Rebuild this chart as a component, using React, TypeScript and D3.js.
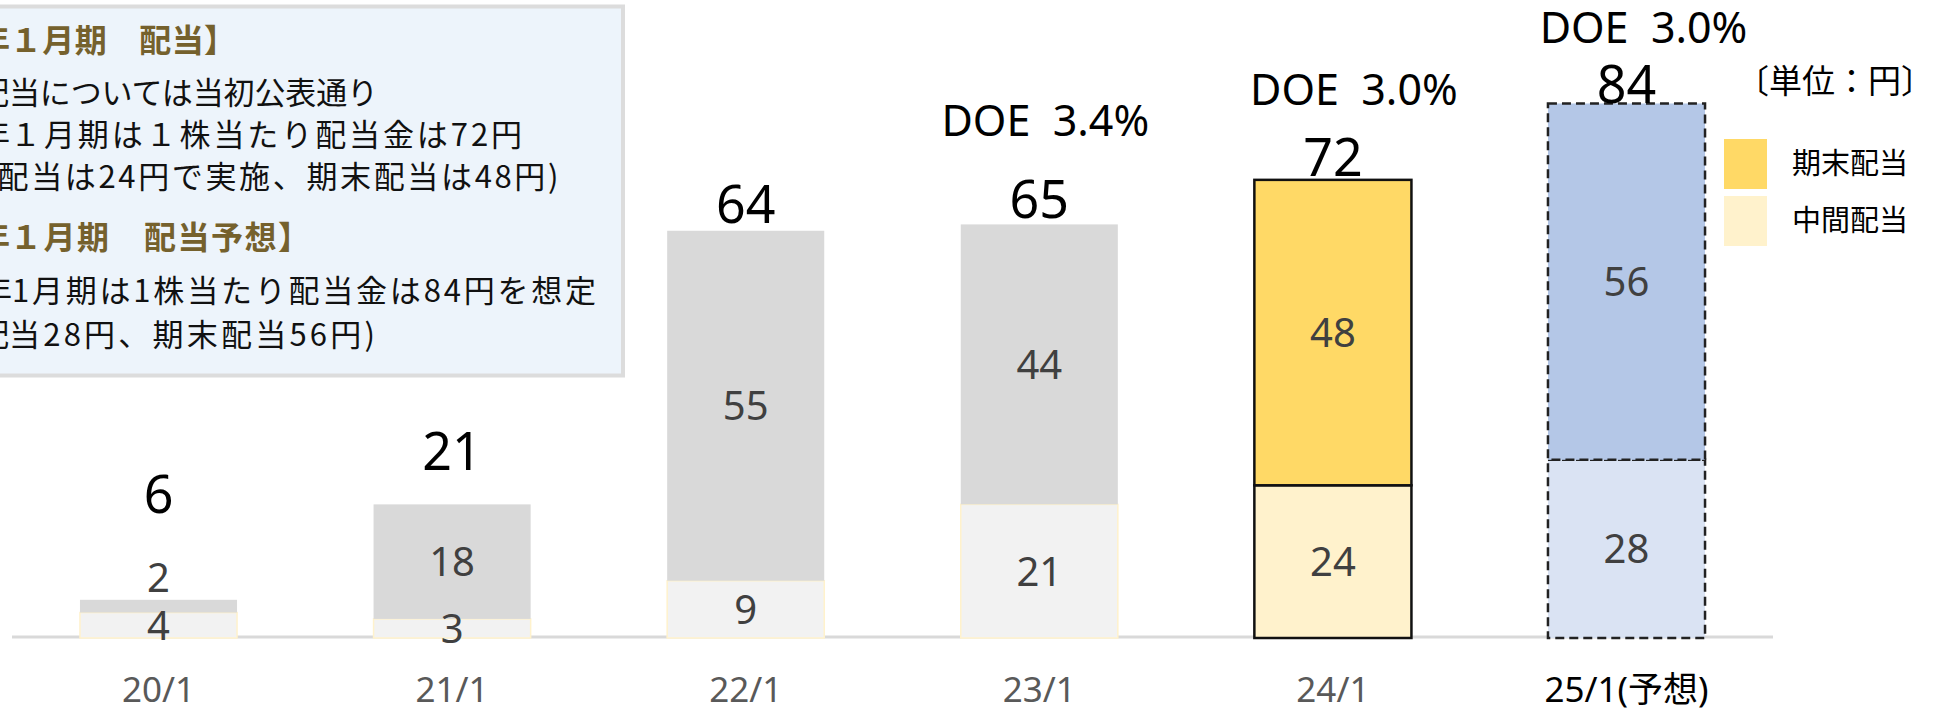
import { useEffect, useRef } from "react";
import * as d3 from "d3";

// ── Data ─────────────────────────────────────────────────────────────────────
const PERIODS = ["20/1", "21/1", "22/1", "23/1", "24/1", "25/1(予想)"];
const INTERIM = [4, 3, 9, 21, 24, 28];      // 中間配当
const YEAR_END = [2, 18, 55, 44, 48, 56];   // 期末配当
const TOTALS = [6, 21, 64, 65, 72, 84];
const DOE = [null, null, null, "3.4%", "3.0%", "3.0%"];
const KIND = ["past", "past", "past", "past", "actual", "forecast"];
const LEGEND = ["期末配当", "中間配当"];
const UNIT = "〔単位：円〕";

// note box: hidden = part that runs off the left edge, shown = visible part
const NOTE_LINES = [
  { hidden: "【2024年", shown: "１月期　配当】", bold: true },
  { hidden: "・期末配", shown: "当については当初公表通り", bold: false },
  { hidden: "　2024年", shown: "１月期は１株当たり配当金は72円", bold: false },
  { hidden: "（中間", shown: "配当は24円で実施、期末配当は48円)", bold: false },
  { hidden: "【2025年", shown: "１月期　配当予想】", bold: true },
  { hidden: "・2025年", shown: "1月期は1株当たり配当金は84円を想定", bold: false },
  { hidden: "（中間配", shown: "当28円、期末配当56円)", bold: false },
];

// ── Layout ───────────────────────────────────────────────────────────────────
const W = 1935;
const H = 708;
const BASE_Y = 638;
const TOP_Y = 103.5;
const LATIN = "'Noto Sans', 'Noto Sans CJK JP', sans-serif";
const JP = "'Noto Sans CJK JP', 'Noto Sans', sans-serif";

// hand-placed label offsets (px above the bar top), as in the source slide
const TOTAL_LIFT = [87, 34, 8, 6, 4, 0.5];
const DOE_LIFT = [0, 0, 0, 88, 75, 60.5];
const DOE_SHIFT = [0, 0, 0, 6, 21, 17];
const NOTE_X = [10, 9, 10, -2.5, 10, 12, 9];
const NOTE_Y = [52, 104, 146, 188, 249, 302, 346];
const NOTE_LEN = [226, 369, 512, 561, 300, 584, 366];   // visible run widths

const STYLE = {
  past: { top: "#d9d9d9", bottom: "#f2f2f2", stroke: "#fff2cc", sw: 1.5, dash: null, topStroke: "none" },
  actual: { top: "#ffd966", bottom: "#fff2cc", stroke: "#111", sw: 2.5, dash: null, topStroke: "#111" },
  forecast: { top: "#b4c7e7", bottom: "#dae3f3", stroke: "#222", sw: 2.5, dash: "9,5", topStroke: "#222" },
};

export default function App() {
  const svgRef = useRef<SVGSVGElement | null>(null);

  useEffect(() => {
    if (!svgRef.current) return;
    const svg = d3.select(svgRef.current);
    svg.selectAll("*").remove();

    const x = d3.scaleBand().domain(PERIODS).range([12, 1773])
      .paddingInner(0.465).paddingOuter(0.2315);
    const y = d3.scaleLinear().domain([0, d3.max(TOTALS) as number]).range([BASE_Y, TOP_Y]);
    const bw = x.bandwidth();

    // ── Note box ──────────────────────────────────────────────────────────────
    svg.append("rect")
      .attr("x", -20).attr("y", 6.5).attr("width", 643).attr("height", 369)
      .attr("fill", "#edf4fb").attr("stroke", "#dcdcdc").attr("stroke-width", 4);

    NOTE_LINES.forEach((ln, i) => {
      const common = (t: any) => t
        .attr("y", NOTE_Y[i])
        .attr("font-family", JP)
        .attr("font-size", ln.bold ? 32 : 31)
        .attr("font-weight", ln.bold ? 700 : 400)
        .attr("fill", ln.bold ? "#75612d" : "#111");
      svg.append("text").call(common).attr("x", NOTE_X[i]).attr("text-anchor", "end").text(ln.hidden);
      svg.append("text").call(common).attr("x", NOTE_X[i]).attr("text-anchor", "start")
        .attr("textLength", NOTE_LEN[i]).attr("lengthAdjust", "spacing")
        .text(ln.shown);
    });

    // ── Baseline ──────────────────────────────────────────────────────────────
    svg.append("line")
      .attr("x1", x.range()[0]).attr("x2", x.range()[1])
      .attr("y1", BASE_Y - 1).attr("y2", BASE_Y - 1)
      .attr("stroke", "#d9d9d9").attr("stroke-width", 3);

    // ── Bars ──────────────────────────────────────────────────────────────────
    const g = svg.append("g");
    PERIODS.forEach((p, i) => {
      const st = STYLE[KIND[i] as keyof typeof STYLE];
      const x0 = x(p) as number;
      const yMid = y(INTERIM[i]);
      const yTop = y(INTERIM[i] + YEAR_END[i]);

      g.append("rect")
        .attr("x", x0).attr("y", yMid).attr("width", bw).attr("height", BASE_Y - yMid)
        .attr("fill", st.bottom).attr("stroke", st.stroke).attr("stroke-width", st.sw)
        .attr("stroke-dasharray", st.dash);
      g.append("rect")
        .attr("x", x0).attr("y", yTop).attr("width", bw).attr("height", yMid - yTop)
        .attr("fill", st.top).attr("stroke", st.topStroke).attr("stroke-width", st.sw)
        .attr("stroke-dasharray", st.dash);
    });

    // ── Segment labels ────────────────────────────────────────────────────────
    const segLabel = (cx: number, cy: number, txt: string) =>
      svg.append("text")
        .attr("x", cx).attr("y", cy).attr("dy", "0.36em")
        .attr("text-anchor", "middle")
        .attr("font-family", LATIN).attr("font-size", 40).attr("fill", "#404040")
        .text(txt);

    PERIODS.forEach((p, i) => {
      const cx = (x(p) as number) + bw / 2;
      const yMid = y(INTERIM[i]);
      const yTop = y(INTERIM[i] + YEAR_END[i]);
      segLabel(cx, (BASE_Y + yMid) / 2, String(INTERIM[i]));
      const h = yMid - yTop;
      segLabel(cx, h < 16 ? yTop - 22 : (yMid + yTop) / 2, String(YEAR_END[i]));
    });

    // ── Totals & DOE ──────────────────────────────────────────────────────────
    PERIODS.forEach((p, i) => {
      const cx = (x(p) as number) + bw / 2;
      const yTop = y(TOTALS[i]);
      svg.append("text")
        .attr("x", cx).attr("y", yTop - TOTAL_LIFT[i])
        .attr("text-anchor", "middle")
        .attr("font-family", LATIN).attr("font-size", 52).attr("fill", "#000")
        .text(String(TOTALS[i]));
      if (DOE[i]) {
        svg.append("text")
          .attr("x", cx + DOE_SHIFT[i]).attr("y", yTop - DOE_LIFT[i])
          .attr("text-anchor", "middle")
          .attr("font-family", LATIN).attr("font-size", 43).attr("fill", "#000")
          .attr("xml:space", "preserve")
          .style("white-space", "pre")
          .text(`DOE  ${DOE[i]}`);
      }
    });

    // ── X axis labels ─────────────────────────────────────────────────────────
    PERIODS.forEach((p, i) => {
      svg.append("text")
        .attr("x", (x(p) as number) + bw / 2).attr("y", 702)
        .attr("text-anchor", "middle")
        .attr("font-family", LATIN).attr("font-size", 35)
        .attr("fill", KIND[i] === "forecast" ? "#000" : "#595959")
        .text(p);
    });

    // ── Legend & unit ─────────────────────────────────────────────────────────
    const legendFill = [STYLE.actual.top, STYLE.actual.bottom];
    LEGEND.forEach((name, i) => {
      svg.append("rect")
        .attr("x", 1724).attr("y", 139 + i * 57).attr("width", 43).attr("height", 50)
        .attr("fill", legendFill[i]);
      svg.append("text")
        .attr("x", 1792).attr("y", 164 + i * 57).attr("dy", "0.36em")
        .attr("font-family", JP).attr("font-size", 29).attr("fill", "#000")
        .text(name);
    });
    svg.append("text")
      .attr("x", 1736).attr("y", 93)
      .attr("font-family", JP).attr("font-size", 33).attr("fill", "#000")
      .text(UNIT);
  }, []);

  return (
    <svg
      ref={svgRef}
      width={W}
      height={H}
      viewBox={`0 0 ${W} ${H}`}
      style={{ position: "absolute", left: 0, top: 0, display: "block", background: "#fff" }}
    />
  );
}
